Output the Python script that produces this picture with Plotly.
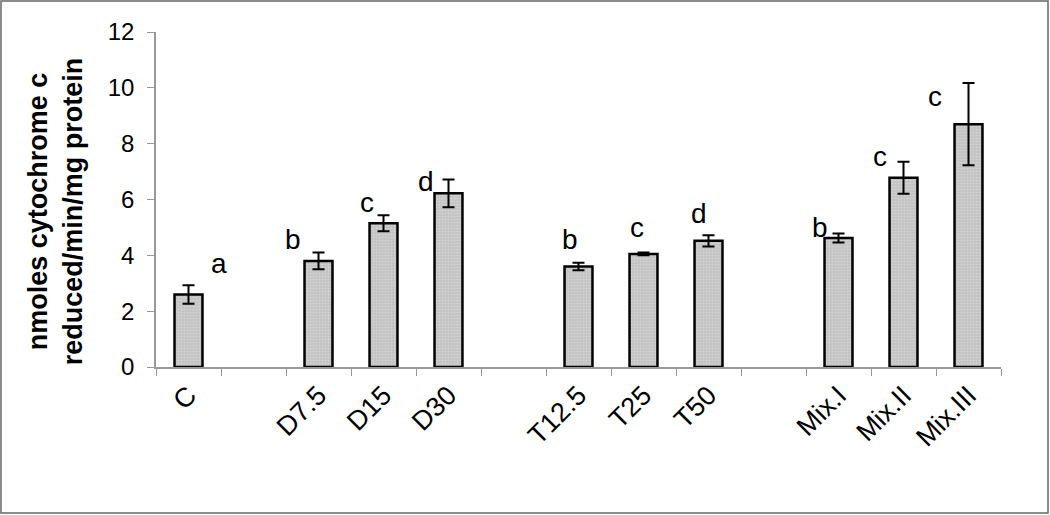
"""Cytochrome c reductase activity bar chart."""
import plotly.graph_objects as go

categories = ["C", " ", "D7.5", "D15", "D30", "  ", "T12.5", "T25", "T50", "   ", "Mix.I", "Mix.II", "Mix.III"]
values = [2.6, None, 3.8, 5.15, 6.22, None, 3.6, 4.05, 4.52, None, 4.62, 6.78, 8.7]
errors = [0.33, None, 0.3, 0.29, 0.5, None, 0.13, 0.05, 0.2, None, 0.16, 0.57, 1.47]
letters = ["a", None, "b", "c", "d", None, "b", "c", "d", None, "b", "c", "c"]

# letter placement (pixel shift from category centre, data y)
letter_xshift = [30, 0, -26, -17, -23, 0, -9, -7, -10, 0, -19, -24, -34]
letter_y = [3.7, 0, 4.55, 5.9, 6.63, 0, 4.55, 4.98, 5.5, 0, 5.0, 7.55, 9.7]

FONT = "Arial, Liberation Sans, sans-serif"
W, H = 1050, 515
L, R, T, B = 156, 49, 32, 148

fig = go.Figure()
fig.add_trace(go.Bar(
    x=categories,
    y=values,
    width=0.43,
    marker=dict(
        color="#c4c4c4",
        line=dict(color="black", width=2.5),
        pattern=dict(shape=".", fgcolor="#e6e6e6", size=3, solidity=0.25),
    ),
    error_y=dict(type="data", array=errors, visible=True,
                 color="black", thickness=2, width=6),
    showlegend=False,
))

for cat, lab, dx, ly in zip(categories, letters, letter_xshift, letter_y):
    if lab is None:
        continue
    fig.add_annotation(x=cat, y=ly, text=lab, xshift=dx, showarrow=False,
                       font=dict(family=FONT, size=28, color="black"))

pw, ph = W - L - R, H - T - B
fig.add_annotation(
    xref="paper", yref="paper", x=-(L - 55) / pw, y=0.465,
    xanchor="center", yanchor="middle",
    text="<b>nmoles cytochrome c<br>reduced/min/mg protein</b>",
    textangle=-90, showarrow=False,
    font=dict(family=FONT, size=27, color="black"),
)

fig.add_shape(type="rect", xref="paper", yref="paper",
              x0=-(L - 1) / pw, x1=1 + (R - 2) / pw,
              y0=-(B - 2) / ph, y1=1 + (T - 1) / ph,
              line=dict(color="#666666", width=1.5))

fig.update_layout(
    width=W, height=H,
    margin=dict(l=L, r=R, t=T, b=B),
    plot_bgcolor="white", paper_bgcolor="white",
    font=dict(family=FONT, color="black"),
)
fig.update_xaxes(
    type="category", categoryorder="array", categoryarray=categories,
    tickson="boundaries", ticks="outside", ticklen=7, tickcolor="#999999",
    showline=True, linecolor="#999999", linewidth=1.5,
    tickangle=-45, tickfont=dict(size=27), showgrid=False,
)
fig.update_yaxes(
    range=[0, 12], dtick=2, ticks="outside", ticklen=7, tickcolor="#999999",
    showline=True, linecolor="#999999", linewidth=1.5,
    tickfont=dict(size=24), ticklabelstandoff=8, showgrid=False, zeroline=False,
)

fig.write_html("out.html", config={"displayModeBar": False},
               post_script="document.body.style.margin='0';")
